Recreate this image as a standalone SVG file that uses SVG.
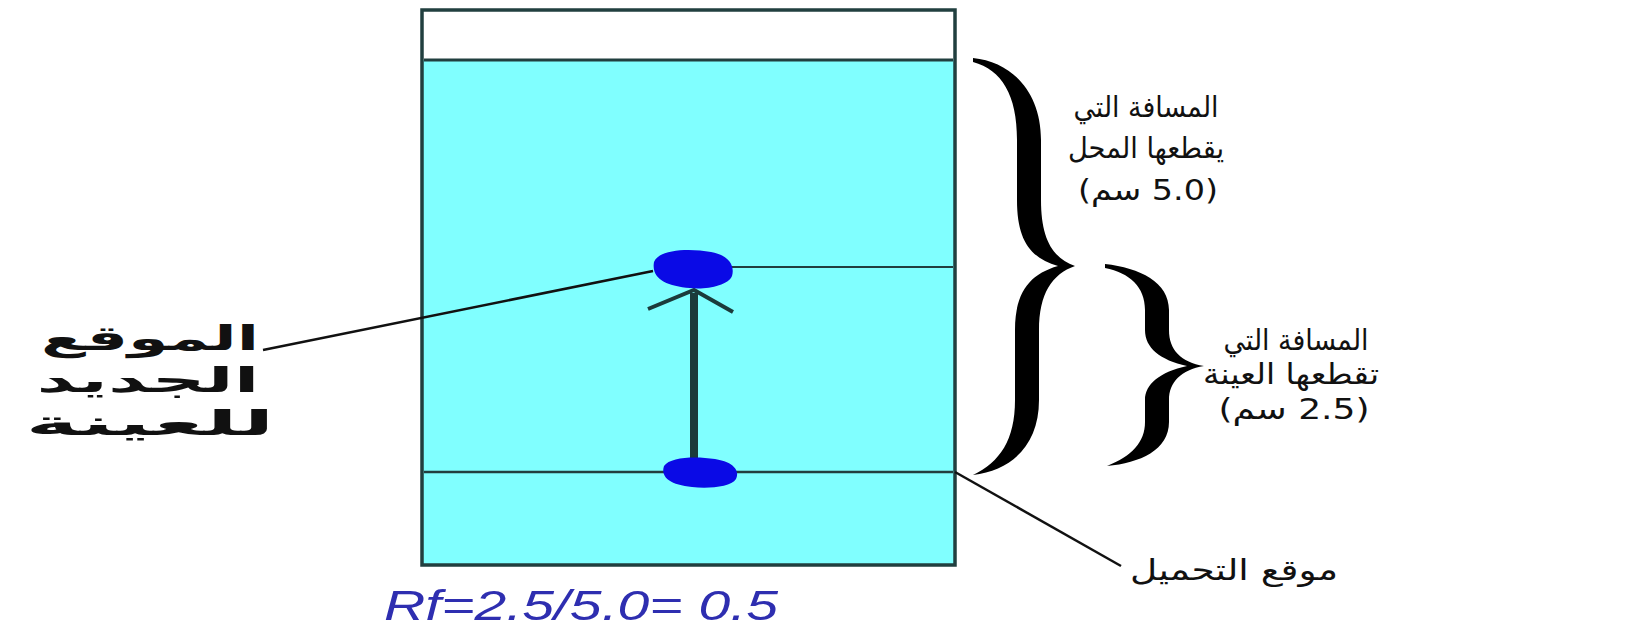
<svg xmlns="http://www.w3.org/2000/svg" width="1626" height="632" viewBox="0 0 1626 632">
  <style>
    .ar { font-family: "DejaVu Sans", "Noto Sans", sans-serif; fill: #111; }
    .arb { font-family: "DejaVu Sans", "Noto Sans", sans-serif; font-weight: bold; fill: #111; }
    .edge { stroke: #213f3f; fill: none; }
    .lead { stroke: #111; stroke-width: 2.5; fill: none; }
    .brace { fill: #000; }
    .spot { fill: #0a0ae6; }
  </style>
  <rect width="1626" height="632" fill="#ffffff"/>

  <g id="plate">
    <rect x="422" y="60" width="533" height="505" fill="#80ffff"/>
    <rect x="422" y="10" width="533" height="555" class="edge" stroke-width="3.5"/>
    <line x1="424" y1="60" x2="953" y2="60" class="edge" stroke-width="3"/>
    <line x1="424" y1="472" x2="953" y2="472" class="edge" stroke-width="2.5"/>
    <line x1="720" y1="267" x2="953" y2="267" class="edge" stroke-width="2"/>
  </g>

  <g id="connectors">
    <line x1="653" y1="271" x2="263" y2="350" class="lead"/>
    <line x1="955" y1="472" x2="1121" y2="566" class="lead" stroke-width="2"/>
    <line x1="694" y1="293" x2="694" y2="462" stroke="#1b3b3b" stroke-width="8"/>
    <polyline points="648,309 694,290 733,312" fill="none" stroke="#1b3b3b" stroke-width="4" stroke-linejoin="miter"/>
  </g>

  <g id="spots">
    <path class="spot" d="M 654,262 C 659,249 690,248 711,252 C 729,255 735,266 732,276 C 728,286 705,290 690,288 C 667,286 651,279 654,262 Z"/>
    <path class="spot" d="M 664,466 C 670,457 695,456 715,459 C 734,462 740,471 736,479 C 731,487 708,489 692,487 C 672,485 660,478 664,466 Z"/>
  </g>

  <g id="brace-solvent">
    <path class="brace" d="M 973,58 C 1012,62 1041,92 1041,140 L 1041,200 C 1041,238 1052,258 1075,266 C 1052,274 1039,294 1039,330 L 1039,400 C 1039,445 1012,470 973,475 C 1000,462 1015,440 1015,400 L 1015,330 C 1015,292 1030,274 1058,266 C 1030,258 1017,240 1017,200 L 1017,140 C 1017,95 1002,70 973,62 Z"/>
  </g>
  <g id="brace-sample">
    <path class="brace" d="M 1105,264 C 1140,268 1169,282 1169,310 L 1169,330 C 1169,350 1181,362 1204,366 C 1181,370 1169,382 1169,400 L 1169,422 C 1169,450 1140,463 1107,466 C 1132,456 1145,442 1145,422 L 1145,400 C 1145,384 1160,372 1187,366 C 1160,360 1145,348 1145,330 L 1145,310 C 1145,287 1130,273 1105,268 Z"/>
  </g>

  <g id="label-new-position">
    <text class="arb" font-size="34" x="150" y="350" text-anchor="middle" direction="rtl" textLength="218" lengthAdjust="spacingAndGlyphs">الموقع</text>
    <text class="arb" font-size="34" x="148" y="392" text-anchor="middle" direction="rtl" textLength="223" lengthAdjust="spacingAndGlyphs">الجديد</text>
    <text class="arb" font-size="34" x="150" y="435" text-anchor="middle" direction="rtl" textLength="249" lengthAdjust="spacingAndGlyphs">للعينة</text>
  </g>

  <g id="label-solvent">
    <text class="ar" font-size="29" x="1146" y="117" text-anchor="middle" direction="rtl" textLength="145" lengthAdjust="spacingAndGlyphs">المسافة التي</text>
    <text class="ar" font-size="29" x="1146" y="158" text-anchor="middle" direction="rtl" textLength="156" lengthAdjust="spacingAndGlyphs">يقطعها المحل</text>
    <text class="ar" font-size="29" x="1148" y="200" text-anchor="middle" direction="rtl" textLength="140" lengthAdjust="spacingAndGlyphs">(5.0 سم)</text>
  </g>

  <g id="label-sample">
    <text class="ar" font-size="29" x="1296" y="350" text-anchor="middle" direction="rtl" textLength="145" lengthAdjust="spacingAndGlyphs">المسافة التي</text>
    <text class="ar" font-size="29" x="1291" y="384" text-anchor="middle" direction="rtl" textLength="176" lengthAdjust="spacingAndGlyphs">تقطعها العينة</text>
    <text class="ar" font-size="29" x="1294" y="419" text-anchor="middle" direction="rtl" textLength="151" lengthAdjust="spacingAndGlyphs">(2.5 سم)</text>
  </g>

  <g id="label-origin">
    <text class="ar" font-size="29" x="1234" y="580" text-anchor="middle" direction="rtl" textLength="208" lengthAdjust="spacingAndGlyphs">موقع التحميل</text>
  </g>

  <g id="label-rf">
    <text x="384" y="620" font-family="Liberation Sans, Arial, sans-serif" font-style="italic" font-size="42" fill="#2e2eb0" textLength="394" lengthAdjust="spacingAndGlyphs">Rf=2.5/5.0= 0.5</text>
  </g>
</svg>
